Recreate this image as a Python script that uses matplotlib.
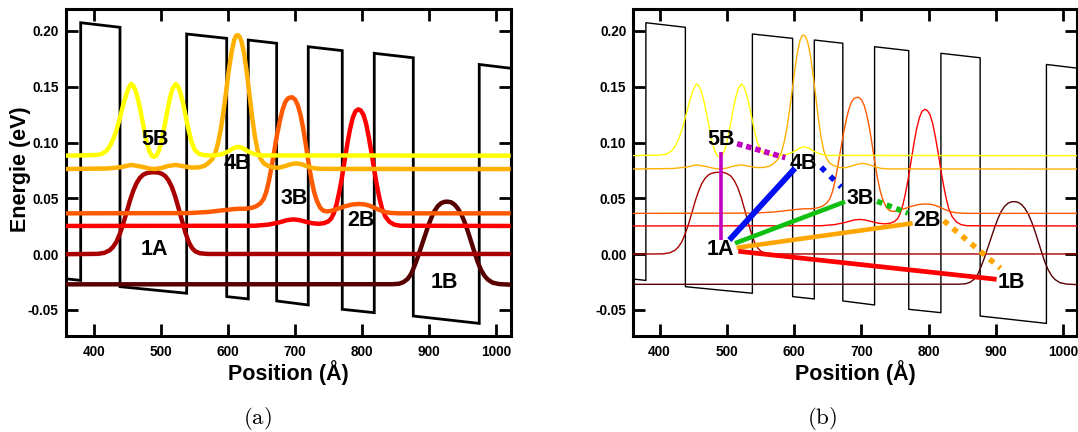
import matplotlib
matplotlib.use("Agg")
import matplotlib.pyplot as plt

plt.rcParams['font.family'] = ['Liberation Sans', 'DejaVu Sans']
plt.rcParams['mathtext.fontset'] = 'cm'

# ---------------- data ----------------
# conduction band potential profile (Å, eV)
pot_x = [357, 379.7, 379.7, 438.4, 438.4, 538, 538, 597.8, 597.8, 630, 630, 672.4,
         672.4, 719.6, 719.6, 770.4, 770.4, 818.2, 818.2, 876.5, 876.5, 975, 975, 1022]
pot_y = [-0.022, -0.0235, 0.2074, 0.2033, -0.0291, -0.035, 0.1973, 0.1934, -0.038, -0.0401,
         0.1919, 0.189, -0.0419, -0.0455, 0.1859, 0.1824, -0.0494, -0.0524, 0.180, 0.176,
         -0.0554, -0.062, 0.170, 0.1666]

# |psi|^2 curves offset by their energy level
s5B_x = [357, 400, 410, 418, 424, 429, 434, 439, 444, 449, 453, 455, 458, 462, 466, 470,
         474, 478, 482, 486, 489.7, 493, 497, 501, 505, 509, 513, 517, 521.5, 525, 529,
         533, 537, 541, 545, 550, 556, 565, 578, 590, 600, 608, 615, 622, 630, 640, 650, 1022]
s5B_y = [0.0883, 0.0888, 0.0895, 0.0925, 0.0975, 0.1040, 0.1130, 0.1240, 0.1355, 0.1455,
         0.1510, 0.1525, 0.1512, 0.1460, 0.1370, 0.1255, 0.1130, 0.1010, 0.0925, 0.0880,
         0.0872, 0.0885, 0.0935, 0.1030, 0.1150, 0.1280, 0.1400, 0.1485, 0.1525, 0.1505,
         0.1440, 0.1340, 0.1225, 0.1110, 0.1010, 0.0935, 0.0900, 0.0886, 0.0884, 0.0895,
         0.0920, 0.0950, 0.0963, 0.0950, 0.0920, 0.0895, 0.0885, 0.0883]

s4B_x = [357, 420, 440, 455, 470, 482, 490, 500, 510, 521.5, 533, 545, 556, 564, 570, 576,
         581, 585, 589, 593, 597, 601, 605, 609, 612, 614.2, 617, 620, 624, 628, 632, 636,
         640, 644, 648, 653, 660, 668, 676, 685, 695, 702, 710, 718, 728, 740, 1022]
s4B_y = [0.0763, 0.0768, 0.0780, 0.0800, 0.0785, 0.0768, 0.0763, 0.0772, 0.0790, 0.0800,
         0.0788, 0.0776, 0.0778, 0.0790, 0.0815, 0.0850, 0.0910, 0.1000, 0.1120, 0.1280,
         0.1460, 0.1650, 0.1810, 0.1920, 0.1958, 0.1964, 0.1950, 0.1905, 0.1790, 0.1620,
         0.1420, 0.1220, 0.1050, 0.0930, 0.0860, 0.0815, 0.0790, 0.0776, 0.0775, 0.0790,
         0.0808, 0.0814, 0.0805, 0.0788, 0.0770, 0.0764, 0.0763]

s3B_x = [357, 540, 570, 590, 605, 615, 625, 635, 642, 648, 653, 657, 661, 665, 669, 673,
         677, 681, 685, 689, 693, 696, 700, 704, 708, 712, 716, 720, 724, 728, 732, 737,
         742, 748, 755, 765, 775, 785, 795, 803, 810, 817, 825, 833, 842, 855, 1022]
s3B_y = [0.0366, 0.0368, 0.0378, 0.0392, 0.0402, 0.0407, 0.0407, 0.0415, 0.0430, 0.0455,
         0.0495, 0.0560, 0.0660, 0.0790, 0.0930, 0.1070, 0.1190, 0.1290, 0.1360, 0.1395,
         0.1405, 0.1405, 0.1385, 0.1335, 0.1250, 0.1130, 0.0980, 0.0820, 0.0680, 0.0565,
         0.0485, 0.0420, 0.0390, 0.0383, 0.0390, 0.0410, 0.0430, 0.0445, 0.0450, 0.0447,
         0.0437, 0.0420, 0.0398, 0.0380, 0.0370, 0.0366, 0.0366]

s2B_x = [357, 640, 660, 675, 688, 697, 706, 715, 725, 735, 743, 749, 754, 758, 762, 766,
         770, 774, 778, 782, 786, 790, 794.4, 798, 802, 806, 810, 814, 818, 822, 826, 830,
         835, 841, 848, 857, 1022]
s2B_y = [0.0253, 0.0255, 0.0265, 0.0283, 0.0305, 0.0312, 0.0306, 0.0292, 0.0278, 0.0272,
         0.0278, 0.0292, 0.0320, 0.0370, 0.0450, 0.0560, 0.0690, 0.0840, 0.0990, 0.1120,
         0.1220, 0.1280, 0.1298, 0.1288, 0.1250, 0.1170, 0.1050, 0.0910, 0.0760, 0.0620,
         0.0500, 0.0405, 0.0335, 0.0290, 0.0265, 0.0255, 0.0253]

s1A_x = [357, 405, 415, 423, 428, 433, 438, 443, 448, 453, 458, 463, 468, 473, 478, 484,
         490, 496, 501, 506, 511, 516, 521, 526, 531, 536, 541, 546, 551, 558, 570, 1022]
s1A_y = [0.0, 0.0003, 0.0012, 0.0035, 0.0065, 0.0110, 0.0180, 0.0268, 0.0370, 0.0475,
         0.0565, 0.0635, 0.0683, 0.0712, 0.0726, 0.0733, 0.0734, 0.0731, 0.0720, 0.0700,
         0.0660, 0.0600, 0.0515, 0.0410, 0.0300, 0.0195, 0.0110, 0.0055, 0.0025, 0.0008,
         0.0002, 0.0002]

s1B_x = [357, 845, 855, 862, 868, 873, 878, 883, 888, 893, 898, 903, 908, 913, 918, 923,
         927.8, 933, 938, 943, 948, 953, 958, 963, 968, 973, 978, 983, 988, 995, 1005, 1022]
s1B_y = [-0.0270, -0.0269, -0.0265, -0.0250, -0.0222, -0.0180, -0.0110, -0.0030, 0.0060,
         0.0150, 0.0240, 0.0320, 0.0385, 0.0430, 0.0457, 0.0469, 0.0471, 0.0465, 0.0445,
         0.0410, 0.0360, 0.0290, 0.0205, 0.0110, 0.0015, -0.0075, -0.0145, -0.0195,
         -0.0228, -0.0255, -0.0268, -0.0273]

state_names = ['1B', '1A', '2B', '3B', '4B', '5B']
state_colors = ['#560000', '#A80000', '#FF0000', '#FF5A00', '#FFB000', '#FFFF00']

label_x = [923.5, 490.5, 798.0, 698.5, 614.0, 491.0]
label_y = [-0.0250, 0.0040, 0.0305, 0.0503, 0.0812, 0.1027]

# transitions in panel (b): solid lines from 1A
trans_x0 = [491.0, 503.7, 512.2, 514.7, 517.1]
trans_y0 = [0.0127, 0.0127, 0.0098, 0.0058, 0.0026]
trans_x1 = [491.0, 601.3, 675.6, 776.2, 901.0]
trans_y1 = [0.0918, 0.0770, 0.0470, 0.0277, -0.0225]
trans_colors = ['#C000C0', '#0010F0', '#10C010', '#FFA500', '#FF0000']
trans_widths = [2.6, 4.2, 3.3, 3.3, 3.4]

# dotted links between neighbouring B states
dot_x0 = [515.3, 640.1, 723.3, 822.4]
dot_y0 = [0.0990, 0.0779, 0.0474, 0.0300]
dot_x1 = [586.8, 670.0, 769.1, 906.7]
dot_y1 = [0.0865, 0.0602, 0.0368, -0.0126]
dot_colors = ['#C000C0', '#0010F0', '#10C010', '#FFA500']
dot_gaps = [0.69, 1.31, 0.84, 1.15]

xticks = [400, 500, 600, 700, 800, 900, 1000]
yticks = [-0.05, 0.00, 0.05, 0.10, 0.15, 0.20]
ytick_labels = ['-0.05', '0.00', '0.05', '0.10', '0.15', '0.20']

series_x = [s1B_x, s1A_x, s2B_x, s3B_x, s4B_x, s5B_x]
series_y = [s1B_y, s1A_y, s2B_y, s3B_y, s4B_y, s5B_y]

# ---------------- figure ----------------
W, H = 1078, 432
fig = plt.figure(figsize=(W / 100, H / 100), dpi=100)

def px_box(l, r, t, b):
    return [l / W, 1 - b / H, (r - l) / W, (b - t) / H]

axA = fig.add_axes(px_box(65.7, 510.7, 9, 336))
axB = fig.add_axes(px_box(633.3, 1076.7, 9, 336))

def style(ax, xlim):
    ax.set_xlim(*xlim)
    ax.set_ylim(-0.0733, 0.2197)
    ax.set_xticks(xticks)
    ax.set_yticks(yticks)
    ax.set_yticklabels(ytick_labels)
    ax.tick_params(direction='in', length=8.5, width=2.0, top=True, right=True,
                   labelsize=9.8, pad=5)
    ax.tick_params(axis='x', pad=6.5)
    for lab in ax.get_xticklabels() + ax.get_yticklabels():
        lab.set_fontweight('bold')
    for sp in ax.spines.values():
        sp.set_linewidth(2.2)

# panel (a)
style(axA, (357.3, 1022))
axA.plot(pot_x, pot_y, color='black', lw=2.0, solid_joinstyle='miter', zorder=2)
for xs, ys, c in zip(series_x, series_y, state_colors):
    axA.plot(xs, ys, color=c, lw=3.2, solid_joinstyle='round', solid_capstyle='butt', zorder=3)
for n, lx, ly in zip(state_names, label_x, label_y):
    axA.text(lx, ly, n, ha='center', va='center', fontsize=15.5, fontweight='bold', zorder=5)

# panel (b)
style(axB, (361, 1020))
axB.plot(pot_x, pot_y, color='black', lw=1.0, zorder=2)
for xs, ys, c in zip(series_x, series_y, state_colors):
    axB.plot(xs, ys, color=c, lw=1.0, zorder=3)
for x0, y0, x1, y1, c, w in zip(trans_x0, trans_y0, trans_x1, trans_y1, trans_colors, trans_widths):
    axB.plot([x0, x1], [y0, y1], color=c, lw=w, solid_capstyle='butt', zorder=4)
for x0, y0, x1, y1, c, g in zip(dot_x0, dot_y0, dot_x1, dot_y1, dot_colors, dot_gaps):
    axB.plot([x0, x1], [y0, y1], color=c, lw=4.0, dashes=(1, g),
             dash_capstyle='butt', zorder=4)
for n, lx, ly in zip(state_names, label_x, label_y):
    axB.text(lx, ly, n, ha='center', va='center', fontsize=15.5, fontweight='bold', zorder=5)

# axis labels and captions
fig.text(21 / W, 1 - 169 / H, 'Energie (eV)', rotation=90, ha='center', va='center',
         fontsize=15.5, fontweight='bold')
fig.text(288 / W, 1 - 380 / H, 'Position (Å)', ha='center', va='baseline',
         fontsize=15.5, fontweight='bold')
fig.text(855 / W, 1 - 380 / H, 'Position (Å)', ha='center', va='baseline',
         fontsize=15.5, fontweight='bold')
fig.text(257 / W, 1 - 423.5 / H, r'$\mathrm{(a)}$', ha='center', va='baseline', fontsize=16.5)
fig.text(822.5 / W, 1 - 423.5 / H, r'$\mathrm{(b)}$', ha='center', va='baseline', fontsize=16.5)

fig.savefig('out.png', dpi=100)
